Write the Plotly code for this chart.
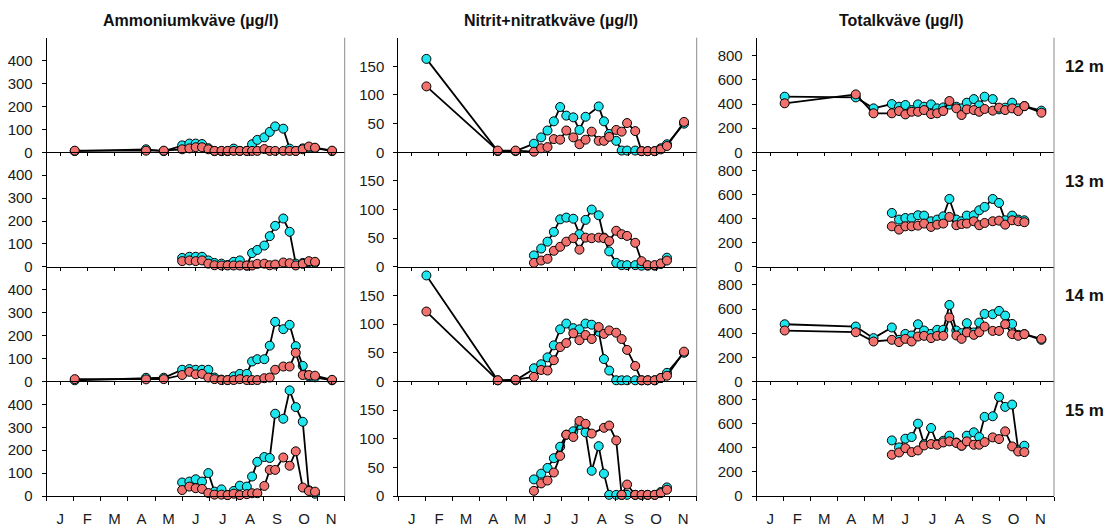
import plotly.graph_objects as go
import calendar

# ---------------- data ----------------
dates = ["02-02", "04-21", "05-11", "06-01", "06-09", "06-16", "06-23", "06-30",
         "07-07", "07-15", "07-22", "07-29", "08-05", "08-13", "08-19", "08-25",
         "09-02", "09-08", "09-14", "09-23", "09-30", "10-07", "10-15", "10-22",
         "10-29", "11-17"]
months = ["J", "F", "M", "A", "M", "J", "J", "A", "S", "O", "N"]
titles = ["Ammoniumkväve (µg/l)", "Nitrit+nitratkväve (µg/l)", "Totalkväve (µg/l)"]
depths = ["12 m", "13 m", "14 m", "15 m"]
N = None

# Ammoniumkväve
nh4_12_c = [5, 13, 5, 30, 38, 38, 36, 18, 5, 5, 5, 16, 6, 6, 35, 54, 65, 89, 113, 103, 16, 6, 17, 20, 18, 5]
nh4_12_r = [7, 7, 7, 13, 17, 22, 22, 13, 6, 6, 6, 6, 6, 6, 6, 6, 14, 6, 6, 6, 6, 6, 13, 25, 20, 7]
nh4_13_c = [N, N, N, 39, 44, 44, 44, 28, 17, 14, 8, 22, 28, 5, 60, 74, 93, 134, 179, 211, 153, 14, 17, 20, 18, N]
nh4_13_r = [N, N, N, 25, 28, 25, 28, 14, 7, 6, 6, 6, 6, 6, 6, 13, 14, 7, 10, 19, 16, 6, 13, 25, 22, N]
nh4_14_c = [5, 16, 16, 51, 54, 51, 51, 51, 17, 8, 6, 22, 33, 33, 87, 97, 97, 156, 260, 228, 247, 154, 68, 22, 18, 5]
nh4_14_r = [10, 9, 10, 28, 42, 31, 33, 17, 10, 6, 6, 6, 10, 6, 6, 6, 14, 17, 51, 65, 65, 125, 28, 28, 25, 7]
nh4_15_c = [N, N, N, 59, 63, 73, 63, 100, 19, 29, 5, 22, 45, 41, 85, 149, 170, 166, 359, 337, 461, 388, 324, 25, 10, N]
nh4_15_r = [N, N, N, 26, 41, 34, 31, 13, 6, 6, 4, 10, 4, 8, 12, 12, 44, 114, 114, 168, 132, 195, 37, 22, 19, N]

# Nitrit+nitratkväve
no3_12_c = [163, 2, 2, 15, 26, 38, 54, 79, 64, 61, 39, 62, N, 80, 54, 32, 20, 3, 3, 3, 2, 2, 2, 7, 14, 50]
no3_12_r = [115, 3, 3, 1, 7, 9, 23, 22, 38, 26, 14, 22, 36, 20, 20, 27, 39, 36, 51, 37, 2, 2, 2, 5, 11, 53]
no3_13_c = [N, N, N, 20, 32, 44, 61, 83, 86, 84, 57, 82, 100, 90, 51, 27, 7, 3, 3, 3, 2, 2, 2, 5, 16, N]
no3_13_r = [N, N, N, 7, 11, 14, 28, 35, 44, 50, 30, 51, 50, 51, 50, 45, 63, 57, 54, 42, 10, 3, 3, 6, 11, N]
no3_14_c = [185, 2, 2, 23, 30, 42, 63, 91, 101, 93, 91, 101, 99, 87, 39, 19, 2, 2, 2, 2, 2, 2, 2, 6, 15, 50]
no3_14_r = [122, 2, 3, 8, 20, 19, 37, 60, 67, 84, 72, 81, 74, 95, 83, 89, 85, 74, 55, 27, 2, 2, 2, 6, 10, 52]
no3_15_c = [N, N, N, 29, 39, 49, 66, 86, 107, 113, 124, 111, 44, 87, 39, 2, 2, 2, 2, 2, 2, 2, 2, 7, 15, N]
no3_15_r = [N, N, N, 9, 22, 27, 41, 70, 107, 103, 131, 126, 109, N, 119, 123, 97, 2, 20, 2, 2, 2, 2, 5, 11, N]

# Totalkväve
tn_12_c = [461, 455, 364, 400, 378, 392, 350, 397, 378, 397, 364, 372, 395, 378, 364, 411, 441, 389, 461, 441, 356, 370, 411, 364, 383, 345]
tn_12_r = [406, 480, 323, 323, 342, 314, 336, 336, 350, 317, 323, 342, 425, 364, 309, 356, 350, 336, 359, 345, 370, 350, 364, 342, 383, 328]
tn_13_c = [N, N, N, 447, 392, 405, 405, 428, 425, 378, 392, 419, 563, 392, 378, 425, 428, 469, 497, 563, 530, 386, 425, 392, 386, N]
tn_13_r = [N, N, N, 336, 309, 336, 336, 342, 359, 331, 350, 359, 414, 345, 355, 359, 378, 345, 364, 378, 383, 350, 386, 378, 370, N]
tn_14_c = [474, 455, 359, 447, 345, 394, 381, 474, 422, 394, 428, 428, 634, 422, 400, 483, 406, 488, 560, 557, 585, 546, 477, 386, 392, 345]
tn_14_r = [422, 408, 331, 345, 326, 353, 331, 372, 378, 359, 378, 378, 530, 381, 353, 406, 386, 408, 455, 419, 419, 474, 392, 378, 392, 353]
tn_15_c = [N, N, N, 461, 403, 475, 489, 600, 430, 564, 431, 458, 500, 444, 417, 500, 528, 489, 656, 661, 822, 739, 758, 380, 417, N]
tn_15_r = [N, N, N, 342, 361, 397, 364, 378, 419, 431, 425, 444, 453, 440, 417, 453, 425, 425, 447, 486, 472, 536, 411, 369, 364, N]

panels = [
    [(nh4_12_c, nh4_12_r), (no3_12_c, no3_12_r), (tn_12_c, tn_12_r)],
    [(nh4_13_c, nh4_13_r), (no3_13_c, no3_13_r), (tn_13_c, tn_13_r)],
    [(nh4_14_c, nh4_14_r), (no3_14_c, no3_14_r), (tn_14_c, tn_14_r)],
    [(nh4_15_c, nh4_15_r), (no3_15_c, no3_15_r), (tn_15_c, tn_15_r)],
]
y_ranges = [[0, 500], [0, 200], [0, 950]]
y_ticks = [[0, 100, 200, 300, 400], [0, 50, 100, 150], [0, 200, 400, 600, 800]]


def month_pos(s):
    m, d = (int(p) for p in s.split("-"))
    return (m - 1) + (d - 1) / calendar.monthrange(2001, m)[1]


xpos = [month_pos(s) for s in dates]

# ---------------- layout geometry ----------------
W, H = 1113, 527
col_px = [(46.7, 344.7), (398.3, 696.7), (756.7, 1054.0)]
title_cx = [190.5, 551.0, 901.5]
row_top, row_bot = 37.7, 496.0
rh = (row_bot - row_top) / 4

CYAN = "#1EE6EE"
RED = "#F0716D"
FONT = "Liberation Sans, Arial, Helvetica, sans-serif"

fig = go.Figure()
layout = dict(
    width=W, height=H, autosize=False, margin=dict(l=0, r=0, t=0, b=0, pad=0),
    plot_bgcolor="white", paper_bgcolor="white", showlegend=False,
    font=dict(family=FONT, size=15, color="#1a1a1a"),
)
shapes = []
annotations = []

for r in range(4):
    for c in range(3):
        k = r * 3 + c + 1
        xa = "x" if k == 1 else f"x{k}"
        ya = "y" if k == 1 else f"y{k}"
        xkey = "xaxis" if k == 1 else f"xaxis{k}"
        ykey = "yaxis" if k == 1 else f"yaxis{k}"
        x0, x1 = col_px[c]
        top = row_top + r * rh
        bot = top + rh
        xd = [x0 / W, x1 / W]
        yd = [1 - bot / H, 1 - top / H]

        xaxis = dict(domain=xd, range=[0, 11], anchor=ya, showline=True,
                     linecolor="black", linewidth=1, showgrid=False, zeroline=False,
                     fixedrange=True, automargin=False)
        if r < 3:
            xaxis.update(tickmode="array", tickvals=[i + 0.5 for i in range(11)],
                         showticklabels=False, ticks="outside", ticklen=3,
                         tickcolor="black")
        else:
            xaxis.update(tickmode="array", tickvals=[i + 0.5 for i in range(11)],
                         ticktext=months, ticks="", showticklabels=True,
                         ticklabelstandoff=9,
                         tickfont=dict(size=15, color="#1a1a1a"),
                         minor=dict(tickmode="array", tickvals=list(range(12)),
                                    ticks="outside", ticklen=4, tickcolor="black",
                                    showgrid=False))
        layout[xkey] = xaxis
        layout[ykey] = dict(domain=yd, range=y_ranges[c], anchor=xa, showline=True,
                            linecolor="black", linewidth=1, showgrid=False,
                            zeroline=False, tickmode="array", tickvals=y_ticks[c],
                            ticks="outside", ticklen=4, tickcolor="black",
                            ticklabelstandoff=6, automargin=False,
                            tickfont=dict(size=15, color="#1a1a1a"), fixedrange=True)
        shapes.append(dict(type="line", xref=f"{xa} domain", yref=f"{ya} domain",
                           x0=1, x1=1, y0=0, y1=1,
                           line=dict(color="#8a8a8a", width=1)))

        cy, rd = panels[r][c]
        for vals, col in ((cy, CYAN), (rd, RED)):
            fig.add_trace(go.Scatter(
                x=xpos, y=vals, xaxis=xa, yaxis=ya, mode="lines+markers",
                connectgaps=True, cliponaxis=False,
                line=dict(color="black", width=1.8),
                marker=dict(color=col, size=9, line=dict(color="black", width=1)),
                hoverinfo="skip"))

for c in range(3):
    annotations.append(dict(text=f"<b>{titles[c]}</b>", x=title_cx[c] / W,
                            y=1 - 20 / H, xref="paper", yref="paper",
                            showarrow=False, xanchor="center", yanchor="middle",
                            font=dict(size=16, color="#111111", family=FONT)))
for r in range(4):
    annotations.append(dict(text=f"<b>{depths[r]}</b>", x=1084 / W,
                            y=1 - (row_top + r * rh + 29) / H, xref="paper",
                            yref="paper", showarrow=False, xanchor="center",
                            yanchor="middle",
                            font=dict(size=17, color="#111111", family=FONT)))

layout["shapes"] = shapes
layout["annotations"] = annotations
fig.update_layout(**layout)
fig.write_html("out.html",
               config={"displayModeBar": False},
               post_script="document.body.style.margin='0';"
                           "document.body.style.overflow='hidden';")
